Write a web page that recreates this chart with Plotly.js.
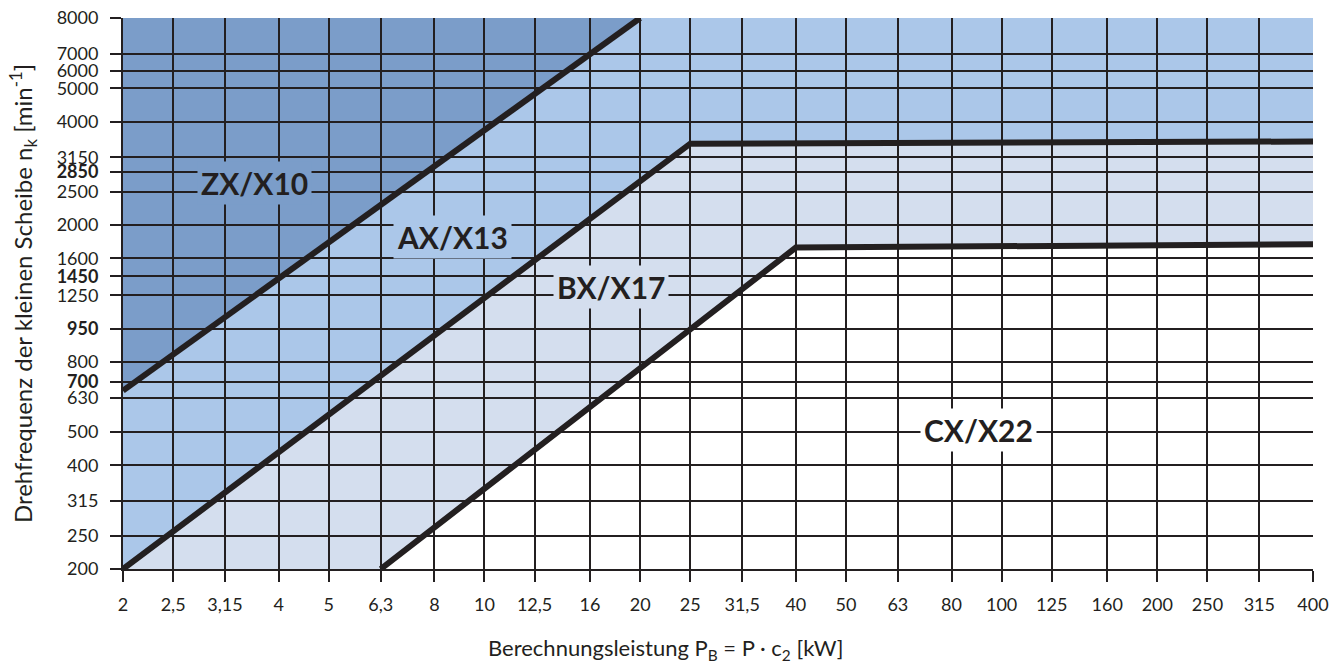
<!DOCTYPE html>
<html>
<head>
<meta charset="utf-8">
<script src="https://cdn.plot.ly/plotly-3.0.1.min.js"></script>
<style>
  html, body { margin: 0; padding: 0; background: #ffffff; }
  #chart { width: 1338px; height: 668px; }
</style>
</head>
<body>
<div id="chart"></div>
<script>
// ---- Data ----
// x axis: Berechnungsleistung P_B [kW] (log scale)
const xTickValues = [2, 2.5, 3.15, 4, 5, 6.3, 8, 10, 12.5, 16, 20, 25, 31.5, 40, 50, 63, 80, 100, 125, 160, 200, 250, 315, 400];
const xTickLabels = ['2', '2,5', '3,15', '4', '5', '6,3', '8', '10', '12,5', '16', '20', '25', '31,5', '40', '50', '63', '80', '100', '125', '160', '200', '250', '315', '400'];

// y axis: Drehfrequenz n_k [min^-1] (log scale); grid line positions as drawn in the reference
const yTickValues = [200, 250, 315, 400, 500, 630, 700, 800, 1000, 1250, 1420, 1600, 2000, 2500, 2850, 3150, 4000, 5000, 5620, 6300, 8000];
const yTickLabels = ['200', '250', '315', '400', '500', '630', '<b>700</b>', '800', '<b>950</b>', '1250', '<b>1450</b>', '1600', '2000', '2500', '<b>2850</b>', '3150', '4000', '5000', '6000', '7000', '8000'];

// axis extent
const pMin = 2, pMax = 400;
const nMin = 200, nMax = 8000;

// profile boundaries (P_B in kW, n_k in min^-1)
const zxBoundaryP = [2, 20];
const zxBoundaryN = [660, 8000];
const axBoundaryP = [2, 25, 400];
const axBoundaryN = [200, 3450, 3500];
const bxBoundaryP = [6.3, 40, 400];
const bxBoundaryN = [200, 1720, 1760];

// profile names
const profileNames = ['ZX/X10', 'AX/X13', 'BX/X17', 'CX/X22'];

// titles
const xTitle = 'Berechnungsleistung P<sub>B</sub> = P · c<sub>2</sub> [kW]';
const yTitle = 'Drehfrequenz der kleinen Scheibe n<sub>k</sub> [min<sup>-1</sup>]';

// ---- Styling ----
const INK = '#231f20';
const colZX = '#7b9dc9';
const colAX = '#abc7e9';
const colBX = '#d4deee';
const colCX = '#ffffff';
const FONT = 'Lato, "Open Sans", sans-serif';

// region above a boundary line, closed along the top / left edges of the axis extent
function regionPath(px, pn) {
  const pts = px.map((p, i) => [p, pn[i]]);
  const last = pts[pts.length - 1];
  if (last[1] < nMax) pts.push([pMax, nMax]);
  pts.push([pMin, nMax]);
  if (pts[0][0] > pMin) pts.push([pMin, nMin]);
  return 'M' + pts.map(q => q[0] + ',' + q[1]).join(' L') + ' Z';
}

function fillShape(px, pn, color) {
  return {
    type: 'path', xref: 'x', yref: 'y', layer: 'below',
    path: regionPath(px, pn),
    fillcolor: color, line: { width: 0 }
  };
}

function boundaryTrace(px, pn, name) {
  return {
    type: 'scatter', mode: 'lines', x: px, y: pn, name: name,
    line: { color: INK, width: 6 }, hoverinfo: 'skip'
  };
}

const traces = [
  boundaryTrace(zxBoundaryP, zxBoundaryN, 'ZX/X10 – AX/X13'),
  boundaryTrace(axBoundaryP, axBoundaryN, 'AX/X13 – BX/X17'),
  boundaryTrace(bxBoundaryP, bxBoundaryN, 'BX/X17 – CX/X22')
];

function label(text, x, y, bg) {
  return {
    text: '<b>' + text + '</b>', xref: 'paper', yref: 'paper', x: x, y: y,
    showarrow: false, xanchor: 'center', yanchor: 'middle',
    font: { family: FONT, size: 30, color: INK },
    bgcolor: bg, borderpad: 3
  };
}

const axisCommon = {
  type: 'log', tickmode: 'array',
  showgrid: true, gridcolor: INK, gridwidth: 2,
  ticks: 'outside', ticklen: 11, tickwidth: 2, tickcolor: INK,
  showline: true, linecolor: INK, linewidth: 2, mirror: false,
  zeroline: false, tickfont: { family: FONT, size: 18, color: INK },
  fixedrange: true
};

const layout = {
  width: 1338, height: 668,
  margin: { l: 123, r: 25, t: 18, b: 99 },
  paper_bgcolor: '#ffffff', plot_bgcolor: colCX,
  showlegend: false, hovermode: false,
  font: { family: FONT, color: INK },
  xaxis: Object.assign({}, axisCommon, {
    range: [Math.log10(pMin), Math.log10(pMax)],
    tickvals: xTickValues, ticktext: xTickLabels,
    ticklabelstandoff: 7
  }),
  yaxis: Object.assign({}, axisCommon, {
    range: [Math.log10(nMin), Math.log10(nMax)],
    tickvals: yTickValues, ticktext: yTickLabels,
    ticklabelstandoff: 8,
    title: { text: yTitle, font: { family: FONT, size: 24, color: INK }, standoff: 17 }
  }),
  shapes: [
    fillShape(bxBoundaryP, bxBoundaryN, colBX),
    fillShape(axBoundaryP, axBoundaryN, colAX),
    fillShape(zxBoundaryP, zxBoundaryN, colZX)
  ],
  annotations: [
    label(profileNames[0], 0.1109, 0.7005, colZX),
    label(profileNames[1], 0.2773, 0.6025, colAX),
    label(profileNames[2], 0.4101, 0.5118, colBX),
    label(profileNames[3], 0.7185, 0.2523, colCX),
    {
      text: xTitle, xref: 'paper', yref: 'paper', x: 0.4555, y: -0.146,
      xanchor: 'center', yanchor: 'middle', showarrow: false,
      font: { family: FONT, size: 22, color: INK }
    }
  ]
};

Plotly.newPlot('chart', traces, layout, { staticPlot: true, displayModeBar: false });
</script>
</body>
</html>
